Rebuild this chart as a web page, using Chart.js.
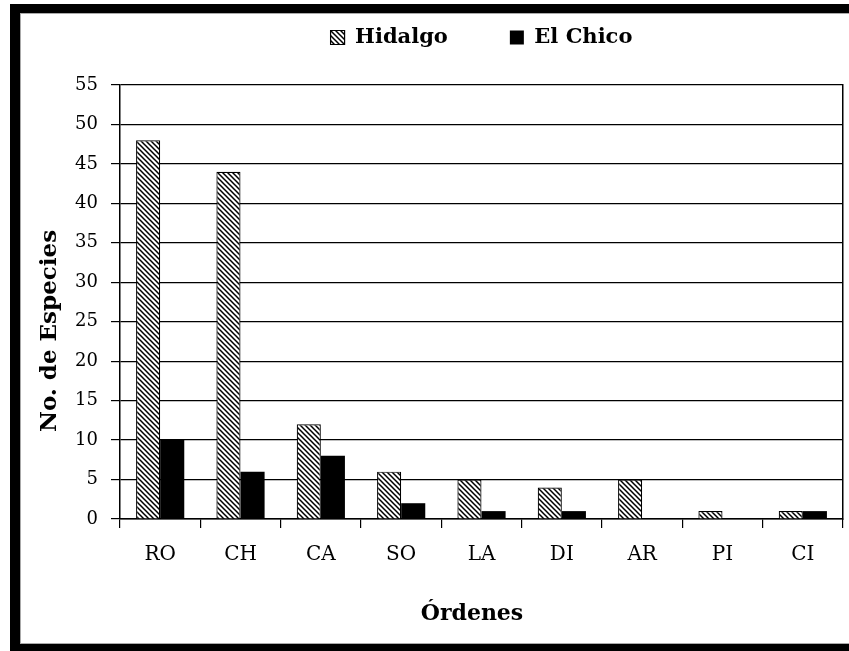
<!DOCTYPE html>
<html>
<head>
<meta charset="utf-8">
<script src="https://cdn.jsdelivr.net/npm/chart.js@4"></script>
<style>
  html, body { margin: 0; padding: 0; background: #fff; }
  #wrap { width: 849px; height: 651px; }
</style>
</head>
<body>
<div id="wrap"><canvas id="chart" width="849" height="651"></canvas></div>
<script>
const ordenes = ['RO', 'CH', 'CA', 'SO', 'LA', 'DI', 'AR', 'PI', 'CI'];
const hidalgo = [48, 44, 12, 6, 5, 4, 5, 1, 1];
const elChico = [10, 6, 8, 2, 1, 1, 0, 0, 1];
const yTicks = [0, 5, 10, 15, 20, 25, 30, 35, 40, 45, 50, 55];
const xTitle = 'Órdenes';
const yTitle = 'No. de Especies';

// diagonal "\\\" hatch for the Hidalgo bars
function makeHatch() {
    const size = 5;
    const c = document.createElement('canvas');
    c.width = size; c.height = size;
    const g = c.getContext('2d');
    g.fillStyle = '#fff';
    g.fillRect(0, 0, size, size);
    g.strokeStyle = '#000';
    g.lineWidth = 1.5;
    g.beginPath();
    for (let k = -size; k <= size; k += size) {
        g.moveTo(k - 1, -1);
        g.lineTo(k + size + 1, size + 1);
    }
    g.stroke();
    return g.createPattern(c, 'repeat');
}

// black picture frame round the chart
const framePlugin = {
    id: 'frame',
    beforeDraw(chart) {
        const ctx = chart.ctx;
        ctx.save();
        ctx.fillStyle = '#fff';
        ctx.fillRect(0, 0, chart.width, chart.height);
        ctx.fillStyle = '#000';
        ctx.fillRect(10, 4, chart.width - 10, 9);
        ctx.fillRect(10, 4, 10, chart.height - 4);
        ctx.fillRect(10, 644, chart.width - 10, 7);
        ctx.fillStyle = '#aaa';
        ctx.fillRect(20, 13, chart.width - 20, 1);
        ctx.fillRect(20, 13, 1, 631);
        ctx.fillRect(20, 643, chart.width - 20, 1);
        ctx.restore();
    }
};

// axis titles sit a little off the plot centre in the original
const axisTitles = {
    id: 'axisTitles',
    afterDraw(chart) {
        const ctx = chart.ctx;
        ctx.save();
        ctx.fillStyle = '#000';
        ctx.textAlign = 'center';
        ctx.textBaseline = 'alphabetic';
        ctx.font = 'bold 22px "DejaVu Serif"';
        ctx.fillText(xTitle, 472, 620);
        ctx.font = 'bold 23px "DejaVu Serif"';
        ctx.translate(56, 331);
        ctx.rotate(-Math.PI / 2);
        ctx.fillText(yTitle, 0, 0);
        ctx.restore();
    }
};

// centre the legend over the plot area and put it at the right height
const legendPlacer = {
    id: 'legendPlacer',
    afterLayout(chart) {
        const lg = chart.legend;
        const ca = chart.chartArea;
        const pad = lg.options.labels.padding;
        lg.left = ca.left;
        lg.right = ca.right;
        lg.width = ca.right - ca.left;
        lg.top = 39 - pad - 12;
    }
};

const ctx = document.getElementById('chart').getContext('2d');
const hatch = makeHatch();

new Chart(ctx, {
    type: 'bar',
    data: {
        labels: ordenes,
        datasets: [
            {
                label: 'Hidalgo',
                data: hidalgo,
                backgroundColor: hatch,
                borderColor: '#000',
                borderWidth: 1.2,
                borderSkipped: 'bottom'
            },
            {
                label: 'El Chico',
                data: elChico,
                backgroundColor: '#000',
                borderWidth: 0
            }
        ]
    },
    options: {
        responsive: false,
        animation: false,
        devicePixelRatio: 1,
        layout: { padding: { left: 20, right: 6, top: 14, bottom: 0 } },
        datasets: { bar: { categoryPercentage: 0.6, barPercentage: 1.0 } },
        plugins: {
            tooltip: { enabled: false },
            legend: {
                position: 'top',
                maxHeight: 71,
                labels: {
                    color: '#000',
                    font: { family: 'DejaVu Serif', size: 21, weight: 'bold' },
                    boxWidth: 14,
                    boxHeight: 14,
                    padding: 62
                }
            }
        },
        scales: {
            x: {
                offset: true,
                grid: {
                    display: true,
                    drawOnChartArea: false,
                    drawTicks: true,
                    tickLength: 9,
                    color: '#000',
                    lineWidth: 1.2
                },
                border: { display: true, color: '#000', width: 1.5 },
                ticks: {
                    color: '#000',
                    font: { family: 'DejaVu Serif', size: 20 },
                    padding: 15,
                    maxRotation: 0
                },
                title: { display: false, text: xTitle },
                afterFit(scale) { scale.height = 132; }
            },
            y: {
                min: 0,
                max: 55,
                afterBuildTicks(scale) { scale.ticks = yTicks.map(v => ({ value: v })); },
                grid: {
                    color: '#000',
                    lineWidth: 1.2,
                    drawTicks: true,
                    tickLength: 9
                },
                border: { display: true, color: '#000', width: 1.5 },
                ticks: {
                    color: '#000',
                    font: { family: 'DejaVu Serif', size: 18 },
                    padding: 13
                },
                title: { display: false, text: yTitle },
                afterFit(scale) { scale.width = 100; }
            },
            y2: {
                position: 'right',
                min: 0,
                max: 55,
                grid: { display: false, drawTicks: false },
                ticks: { display: false },
                border: { display: true, color: '#000', width: 1.5 },
                afterFit(scale) { scale.width = 0; }
            }
        }
    },
    plugins: [framePlugin, legendPlacer, axisTitles]
});
</script>
</body>
</html>
